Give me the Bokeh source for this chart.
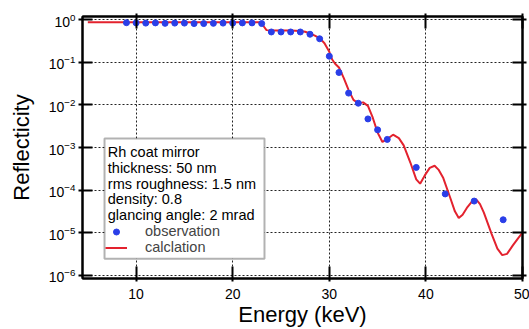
from bokeh.plotting import figure
from bokeh.models import (Range1d, FixedTicker, LogAxis, LinearAxis, BoxAnnotation,
                          Label, Legend, LegendItem, CustomJSTickFormatter)
from bokeh.embed import file_html
from bokeh.resources import INLINE

# ---- data ----
obs_energy = [9, 10, 11, 12, 13, 14, 15, 16, 17, 18, 19, 20, 21, 22, 23,
              24, 25, 26, 27, 28, 29, 30, 31, 32, 33, 34, 35, 36, 39, 42, 45, 48]
obs_refl = [0.86, 0.85, 0.84, 0.85, 0.83, 0.84, 0.84, 0.82, 0.82, 0.83, 0.84, 0.84, 0.85, 0.85, 0.82,
            0.52, 0.52, 0.52, 0.52, 0.46, 0.36, 0.14, 0.058, 0.019, 0.011, 0.0047, 0.0026, 0.00155,
            3.4e-4, 8.1e-5, 5.5e-5, 2.0e-5]

calc_energy = [5.0, 23.0, 23.2, 23.5, 24.0, 26.0, 27.0, 27.5, 28.0, 28.5, 29.0, 29.5, 30.0, 30.3,
               30.6, 31.0, 31.5, 32.0, 32.5, 33.0, 33.5, 34.0, 34.5, 35.0, 35.5, 36.0, 36.6, 37.2,
               37.7, 38.4, 39.0, 39.4, 39.9, 40.4, 40.9, 41.3, 41.8, 42.5, 43.0, 43.4, 43.8, 44.3,
               44.8, 45.2, 45.6, 46.0, 46.8, 47.4, 47.9, 48.4, 49.0, 49.5, 50.0]
calc_refl = [0.88, 0.88, 0.71, 0.575, 0.566, 0.562, 0.55, 0.525, 0.479, 0.427, 0.372, 0.282, 0.178,
             0.117, 0.0933, 0.0759, 0.0427, 0.0224, 0.0132, 0.011, 0.0115, 0.00955, 0.00501,
             0.00224, 0.00135, 0.00158, 0.0020, 0.00166, 0.00112, 4.37e-4, 1.78e-4, 1.41e-4,
             2.24e-4, 3.31e-4, 3.72e-4, 3.02e-4, 1.91e-4, 6.76e-5, 3.16e-5, 2.19e-5, 2.63e-5,
             3.98e-5, 5.5e-5, 6.03e-5, 4.68e-5, 2.95e-5, 9.33e-6, 4.17e-6, 2.95e-6, 3.16e-6,
             5.01e-6, 7.08e-6, 1.0e-5]

x_ticks = [10, 20, 30, 40, 50]
y_ticks = [1e-6, 1e-5, 1e-4, 1e-3, 1e-2, 1e-1, 1.0]

info_lines = ["Rh coat mirror", "thickness: 50 nm", "rms roughness: 1.5 nm",
              "density: 0.8", "glancing angle: 2 mrad"]
legend_labels = ["observation", "calclation"]

FONT = "Liberation Sans"
BLUE = "#2a3ee8"
RED = "#e3222e"

p = figure(width=529, height=329, output_backend="svg", toolbar_location=None,
           y_axis_type="log",
           x_range=Range1d(4.45, 50.0), y_range=Range1d(10 ** -6.08, 10 ** 0.08),
           min_border_left=82, min_border_right=7, min_border_top=16, min_border_bottom=49,
           background_fill_color="white", border_fill_color="white")

p.outline_line_color = "black"
p.outline_line_width = 2

# axes
p.xaxis.ticker = FixedTicker(ticks=x_ticks)
p.yaxis.ticker = FixedTicker(ticks=y_ticks)
for ax in (p.xaxis[0], p.yaxis[0]):
    ax.axis_line_color = "black"
    ax.axis_line_width = 2
    ax.major_tick_line_color = "black"
    ax.major_tick_line_width = 2
    ax.minor_tick_line_color = None
    ax.major_label_text_font = FONT
    ax.major_label_text_font_size = "14px"
    ax.major_label_text_color = "black"
    ax.axis_label_text_font = FONT
    ax.axis_label_text_font_size = "22px"
    ax.axis_label_text_font_style = "normal"
    ax.axis_label_text_color = "black"

p.xaxis.major_tick_in = 12
p.xaxis.major_tick_out = 3
p.xaxis.major_label_standoff = 7
p.xaxis.axis_label = "Energy (keV)"
p.xaxis.axis_label_standoff = 0

p.yaxis.major_tick_in = 10
p.yaxis.major_tick_out = 4
p.yaxis.major_label_standoff = 3
p.yaxis.axis_label = "Reflecticity"
p.yaxis.axis_label_standoff = 12

blank = CustomJSTickFormatter(code="return ''")
top_ax = LinearAxis(ticker=FixedTicker(ticks=x_ticks), formatter=blank,
                    major_tick_in=12, major_tick_out=3,
                    major_tick_line_width=2, axis_line_width=2, minor_tick_line_color=None,
                    major_label_standoff=0)
right_ax = LogAxis(ticker=FixedTicker(ticks=y_ticks), formatter=blank,
                   major_tick_in=10, major_tick_out=4,
                   major_tick_line_width=2, axis_line_width=2, minor_tick_line_color=None,
                   major_label_standoff=0)
p.add_layout(top_ax, "above")
p.add_layout(right_ax, "right")

# grid
p.xgrid.ticker = FixedTicker(ticks=x_ticks)
p.ygrid.ticker = FixedTicker(ticks=y_ticks)
for g in (p.xgrid[0], p.ygrid[0]):
    g.grid_line_color = "#222222"
    g.grid_line_dash = "2 2"
    g.grid_line_width = 1

# data
r_calc = p.line(calc_energy, calc_refl, line_color=RED, line_width=2)
r_obs = p.scatter(obs_energy, obs_refl, size=6, fill_color=BLUE, line_color=BLUE)

# info box
box = BoxAnnotation(left=6.73, right=23.29, top=10 ** -2.79, bottom=10 ** -5.614,
                    fill_color="white", fill_alpha=1.0, line_color="black", line_width=2)
p.add_layout(box)

line_y = [-3.114, -3.487, -3.86, -4.21, -4.58]
for txt, ly in zip(info_lines, line_y):
    p.add_layout(Label(x=7.07, y=10 ** ly, text=txt, text_font=FONT, text_font_size="14.5px",
                       text_color="black", text_baseline="middle", text_align="left"))

legend = Legend(items=[LegendItem(label=legend_labels[0], renderers=[r_obs]),
                       LegendItem(label=legend_labels[1], renderers=[r_calc])],
                location=(23, 23), margin=0, padding=0, spacing=0,
                glyph_width=22, glyph_height=15, label_height=15, label_standoff=18,
                label_text_font=FONT, label_text_font_size="14.5px",
                border_line_color=None, background_fill_alpha=0)
p.add_layout(legend)

open("out.html", "w").write(file_html(p, INLINE))
